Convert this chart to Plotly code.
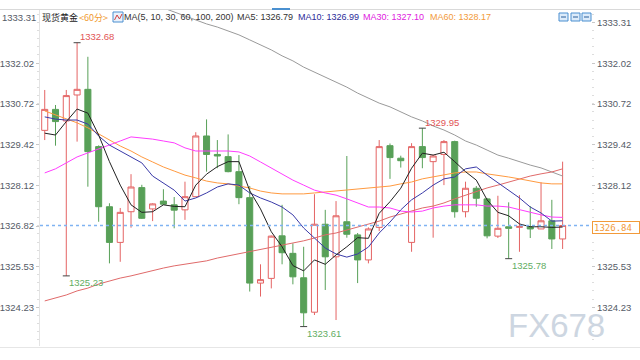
import plotly.graph_objects as go

# ---------------- data ----------------
open_ = [1329.88, 1330.55, 1330.18, 1331.01, 1331.19, 1329.36, 1327.44, 1326.30, 1327.28, 1328.05,
         1327.37, 1327.62, 1327.50, 1327.34, 1327.76, 1329.70, 1329.11, 1329.04, 1328.56, 1327.73,
         1325.00, 1325.15, 1326.51, 1325.95, 1325.17, 1324.07, 1326.88, 1325.84, 1326.96, 1326.54,
         1325.74, 1326.78, 1329.39, 1328.99, 1326.30, 1329.36, 1328.88, 1329.11, 1329.52, 1327.28,
         1328.03, 1327.69, 1326.50, 1326.80, 1326.78, 1326.80, 1326.73, 1326.99, 1326.41]
high = [1331.17, 1330.69, 1331.17, 1332.68, 1332.23, 1329.40, 1327.55, 1327.40, 1328.48, 1328.14,
        1327.55, 1328.00, 1327.75, 1328.24, 1329.82, 1330.23, 1329.57, 1329.75, 1329.09, 1328.10,
        1325.60, 1326.52, 1327.50, 1326.27, 1326.16, 1327.84, 1327.34, 1327.62, 1329.06, 1326.60,
        1326.78, 1329.57, 1329.46, 1329.07, 1329.47, 1329.95, 1329.10, 1329.57, 1329.55, 1328.24,
        1328.10, 1327.72, 1327.79, 1327.58, 1327.81, 1327.46, 1328.22, 1327.66, 1328.88]
low = [1329.57, 1329.39, 1325.23, 1329.52, 1328.08, 1326.96, 1325.63, 1325.68, 1326.77, 1327.05,
       1326.98, 1327.50, 1326.75, 1327.02, 1327.76, 1328.56, 1328.67, 1328.54, 1327.52, 1324.73,
       1324.57, 1324.83, 1325.60, 1324.96, 1323.61, 1323.98, 1324.78, 1323.82, 1326.45, 1325.00,
       1325.63, 1326.66, 1328.33, 1328.69, 1326.00, 1328.67, 1326.45, 1328.13, 1327.09, 1327.10,
       1327.44, 1326.43, 1326.44, 1325.78, 1326.00, 1326.44, 1326.73, 1326.09, 1326.09]
close = [1330.55, 1330.16, 1330.99, 1331.19, 1329.20, 1327.44, 1326.30, 1327.26, 1328.07, 1327.07,
         1327.53, 1327.52, 1327.33, 1327.76, 1329.70, 1329.11, 1329.06, 1328.56, 1327.73, 1325.00,
         1325.11, 1326.50, 1325.97, 1325.20, 1324.05, 1326.88, 1325.84, 1327.15, 1326.56, 1325.74,
         1326.73, 1329.36, 1329.01, 1328.91, 1329.36, 1329.01, 1329.06, 1329.52, 1327.28, 1328.03,
         1327.71, 1326.51, 1326.75, 1326.75, 1326.81, 1326.73, 1326.99, 1326.41, 1326.84]

ma5 = [1329.79, 1329.73, 1330.16, 1330.56, 1330.43, 1329.73, 1328.88, 1328.13, 1327.50, 1327.26,
       1327.28, 1327.50, 1327.45, 1327.44, 1328.13, 1328.48, 1328.72, 1328.88, 1328.88, 1327.95,
       1327.37, 1326.64, 1326.16, 1325.56, 1325.39, 1325.74, 1325.60, 1325.90, 1326.16, 1326.45,
       1326.43, 1327.23, 1327.60, 1328.03, 1328.67, 1329.15, 1329.09, 1329.18, 1328.88, 1328.56,
       1328.29, 1327.66, 1327.26, 1327.15, 1326.89, 1326.80, 1326.80, 1326.78, 1326.79]
ma10 = [1330.31, 1330.24, 1330.21, 1330.21, 1330.08, 1329.70, 1329.41, 1329.22, 1329.03, 1328.84,
        1328.42, 1328.20, 1327.97, 1327.62, 1327.72, 1327.88, 1328.07, 1328.17, 1328.13, 1327.88,
        1327.72, 1327.59, 1327.43, 1327.18, 1326.76, 1326.44, 1326.12, 1325.93, 1325.83, 1325.93,
        1326.15, 1326.60, 1326.95, 1327.34, 1327.66, 1327.88, 1328.13, 1328.33, 1328.39, 1328.65,
        1328.71, 1328.45, 1328.20, 1327.97, 1327.72, 1327.43, 1327.24, 1326.98, 1326.99]
ma30 = [1328.52, 1328.65, 1328.84, 1329.03, 1329.16, 1329.28, 1329.41, 1329.54, 1329.67, 1329.64,
        1329.60, 1329.54, 1329.48, 1329.32, 1329.22, 1329.22, 1329.22, 1329.22, 1329.19, 1329.06,
        1328.87, 1328.68, 1328.49, 1328.29, 1328.13, 1327.97, 1327.88, 1327.81, 1327.69, 1327.56,
        1327.43, 1327.43, 1327.40, 1327.30, 1327.27, 1327.30, 1327.40, 1327.46, 1327.50, 1327.50,
        1327.50, 1327.46, 1327.46, 1327.43, 1327.34, 1327.27, 1327.18, 1327.11, 1327.10]
ma60 = [1330.50, 1330.37, 1330.24, 1330.12, 1329.96, 1329.76, 1329.57, 1329.38, 1329.22, 1329.03,
        1328.87, 1328.71, 1328.58, 1328.45, 1328.36, 1328.26, 1328.20, 1328.17, 1328.10, 1328.04,
        1327.94, 1327.88, 1327.85, 1327.85, 1327.85, 1327.88, 1327.91, 1327.94, 1327.97, 1328.01,
        1328.04, 1328.07, 1328.10, 1328.17, 1328.23, 1328.33, 1328.39, 1328.45, 1328.52, 1328.55,
        1328.55, 1328.49, 1328.45, 1328.39, 1328.33, 1328.26, 1328.20, 1328.17, 1328.17]
ma100 = [1324.43, 1324.52, 1324.62, 1324.75, 1324.84, 1324.97, 1325.07, 1325.16, 1325.23, 1325.32,
         1325.39, 1325.48, 1325.55, 1325.61, 1325.67, 1325.71, 1325.80, 1325.87, 1325.93, 1325.99,
         1326.06, 1326.15, 1326.22, 1326.28, 1326.35, 1326.44, 1326.54, 1326.60, 1326.70, 1326.79,
         1326.89, 1326.98, 1327.11, 1327.21, 1327.30, 1327.40, 1327.46, 1327.56, 1327.69, 1327.81,
         1327.91, 1328.04, 1328.13, 1328.23, 1328.33, 1328.42, 1328.49, 1328.55, 1328.65]
ma200 = [None] * 11 + [
         1333.79, 1333.66, 1333.53, 1333.41, 1333.28, 1333.18, 1333.05, 1332.93, 1332.77,
         1332.61, 1332.45, 1332.26, 1332.10, 1331.90, 1331.74, 1331.58, 1331.42, 1331.26, 1331.07,
         1330.91, 1330.75, 1330.63, 1330.47, 1330.31, 1330.18, 1330.02, 1329.89, 1329.73, 1329.54,
         1329.41, 1329.25, 1329.09, 1328.99, 1328.87, 1328.77, 1328.68, 1328.55, 1328.42]

tick_vals = [1333.31, 1332.02, 1330.72, 1329.42, 1328.12, 1326.82, 1325.53, 1324.23]
tick_text = ["1333.31", "1332.02", "1330.72", "1329.42", "1328.12", "1326.82", "1325.53", "1324.23"]
last_price = 1326.84

# extreme-price labels: (candle index, price, kind)
marks = [(3, 1332.68, "high"), (2, 1325.23, "low"), (24, 1323.61, "low"),
         (35, 1329.95, "high"), (43, 1325.78, "low")]

legend_title = "现货黄金"
legend_period = "<60分>"
legend_ma = "MA(5, 10, 30, 60, 100, 200)"
legend_vals = [("MA5: 1326.79", "#333333"), ("MA10: 1326.99", "#2b2b99"),
               ("MA30: 1327.10", "#e020e0"), ("MA60: 1328.17", "#f29a3a")]

x = list(range(len(close)))

# ---------------- geometry helpers (pixels -> paper) ----------------
L, R, T, B = 40, 591, 10, 346
W, H = 640, 360
def px(xp):
    return (xp - L) / (R - L)
def py(yp):
    return (B - yp) / (B - T)

RED = "#e46464"
GREEN = "#58a058"

fig = go.Figure()
fig.add_trace(go.Candlestick(
    x=x, open=open_, high=high, low=low, close=close,
    increasing=dict(line=dict(color=RED, width=1), fillcolor="white"),
    decreasing=dict(line=dict(color=GREEN, width=1), fillcolor=GREEN),
    whiskerwidth=0, showlegend=False, hoverinfo="skip"))

for series, color in [(ma200, "#9a9a9a"), (ma100, "#e06a6a"), (ma60, "#ff9a40"),
                      (ma30, "#ff3cff"), (ma10, "#3a3aa8"), (ma5, "#222222")]:
    fig.add_trace(go.Scatter(x=x, y=series, mode="lines",
                             line=dict(color=color, width=1),
                             showlegend=False, hoverinfo="skip"))

# markers at extremes
fig.add_trace(go.Scatter(x=[m[0] for m in marks], y=[m[1] for m in marks], mode="markers",
                         marker=dict(symbol="line-ew", size=5, line=dict(color="#444", width=1)),
                         showlegend=False, hoverinfo="skip"))

# invisible trace for the right axis
fig.add_trace(go.Scatter(x=[0], y=[last_price], yaxis="y2", mode="markers",
                         marker=dict(opacity=0), showlegend=False, hoverinfo="skip"))

yrange = [1322.99, 1333.725]
tickfont = dict(family="Liberation Sans, Arial", size=9.5, color="#555b66")

fig.update_layout(
    template="none",
    width=W, height=H,
    margin=dict(l=L, r=W - R, t=T, b=H - B, pad=0, autoexpand=False),
    paper_bgcolor="white", plot_bgcolor="white",
    boxgap=0.2,
    hovermode=False,
    xaxis=dict(range=[-0.437, 50.63], visible=False, rangeslider=dict(visible=False),
               fixedrange=True, automargin=False),
    yaxis=dict(range=yrange, side="left", tickmode="array", automargin=False,
               tickvals=tick_vals[1:], ticktext=tick_text[1:],
               ticks="outside", ticklen=3, tickcolor="#c8c8c8",
               showgrid=False, zeroline=False, showline=True, linecolor="#e4e4e4",
               tickfont=tickfont, fixedrange=True,
               minor=dict(ticks="outside", ticklen=2, tickcolor="#dddddd",
                          tick0=1324.23, dtick=0.26, showgrid=False)),
    yaxis2=dict(range=yrange, side="right", overlaying="y", tickmode="array", automargin=False,
                tickvals=tick_vals, ticktext=tick_text,
                ticks="outside", ticklen=3, tickcolor="#c8c8c8",
                showgrid=False, zeroline=False, showline=False,
                tickfont=tickfont, fixedrange=True,
                minor=dict(ticks="outside", ticklen=2, tickcolor="#dddddd",
                           tick0=1324.23, dtick=0.26, showgrid=False)),
)

shapes = []
# last price dotted line
shapes.append(dict(type="line", xref="paper", yref="y", x0=0, x1=px(593),
                   y0=last_price, y1=last_price,
                   line=dict(color="#7fb3f2", width=1.5, dash="dot")))
# top and bottom frame lines
shapes.append(dict(type="line", xref="paper", yref="paper", x0=px(0), x1=px(640),
                   y0=py(9.5), y1=py(9.5), line=dict(color="#d9d9d9", width=1)))
shapes.append(dict(type="line", xref="paper", yref="paper", x0=px(272), x1=px(290),
                   y0=py(9), y1=py(9), line=dict(color="#4a90d0", width=2)))
shapes.append(dict(type="line", xref="paper", yref="paper", x0=px(0), x1=px(640),
                   y0=py(347.5), y1=py(347.5), line=dict(color="#e6e6e6", width=1)))
# top-right toolbar icons
for x0 in [559, 571, 582]:
    shapes.append(dict(type="rect", xref="paper", yref="paper",
                       x0=px(x0), x1=px(x0 + 9), y0=py(21), y1=py(13),
                       line=dict(color="#4a8fd0", width=1), fillcolor="#dcebfa"))
    shapes.append(dict(type="line", xref="paper", yref="paper",
                       x0=px(x0 + 2), x1=px(x0 + 7), y0=py(17), y1=py(17),
                       line=dict(color="#2a5f9a", width=1)))
# legend MA icon
shapes.append(dict(type="rect", xref="paper", yref="paper",
                   x0=px(113), x1=px(123), y0=py(22), y1=py(12),
                   line=dict(color="#4a8fd0", width=1), fillcolor="#eaf2fb"))
shapes.append(dict(type="path", xref="paper", yref="paper",
                   path="M {} {} L {} {} L {} {} L {} {}".format(
                       px(114.5), py(20), px(117), py(15), px(119.5), py(19), px(122), py(14)),
                   line=dict(color="#d04040", width=1)))
fig.update_layout(shapes=shapes)

ann = []
# legend texts
lf = "Liberation Sans, Arial"
ann.append(dict(xref="paper", yref="paper", x=px(40), y=py(17), xanchor="left", yanchor="middle",
                text=legend_title, showarrow=False,
                font=dict(family="Noto Sans CJK SC", size=9, color="#222222")))
ann.append(dict(xref="paper", yref="paper", x=px(77), y=py(17), xanchor="left", yanchor="middle",
                text=legend_period.replace("<", "&lt;").replace(">", "&gt;"), showarrow=False,
                font=dict(family="Noto Sans CJK SC", size=9, color="#f09a30")))
ann.append(dict(xref="paper", yref="paper", x=px(122), y=py(17), xanchor="left", yanchor="middle",
                text=legend_ma, showarrow=False, font=dict(family=lf, size=9, color="#333333")))
for (txt, col), xp in zip(legend_vals, [235, 296, 361, 428]):
    ann.append(dict(xref="paper", yref="paper", x=px(xp), y=py(17), xanchor="left",
                    yanchor="middle", text=txt, showarrow=False,
                    font=dict(family=lf, size=9, color=col)))
# left top tick label (drawn on the legend row in the reference)
ann.append(dict(xref="paper", yref="paper", x=px(38), y=py(17), xanchor="right",
                yanchor="middle", text=tick_text[0], showarrow=False, font=tickfont))
# extreme labels
for i, p, kind in marks:
    ann.append(dict(x=i, y=p, xref="x", yref="y", xanchor="left", yanchor="middle",
                    text=f"{p:.2f}", showarrow=False, xshift=1,
                    yshift=6 if kind == "high" else -7,
                    font=dict(family=lf, size=9.5,
                              color="#e25555" if kind == "high" else "#62ad62")))
# last price box on the right axis
ann.append(dict(xref="paper", yref="y", x=px(592), y=last_price, xanchor="left",
                yanchor="middle", yshift=-2, text=f"{last_price:.2f}", showarrow=False,
                font=dict(family="DejaVu Sans Mono", size=9, color="#f29a3a"),
                bordercolor="#f29a3a", borderwidth=1, borderpad=1, bgcolor="white",
                width=44, height=9, align="left"))
# watermark
ann.append(dict(xref="paper", yref="paper", x=px(506), y=py(325), xanchor="left",
                yanchor="middle", text="FX678", showarrow=False,
                font=dict(family="Liberation Sans, Arial", size=33, color="#cdd6e1")))
fig.update_layout(annotations=ann)

fig.write_html("out.html", config={"displayModeBar": False, "staticPlot": True},
               post_script="document.body.style.margin='0px';document.body.style.overflow='hidden';")
